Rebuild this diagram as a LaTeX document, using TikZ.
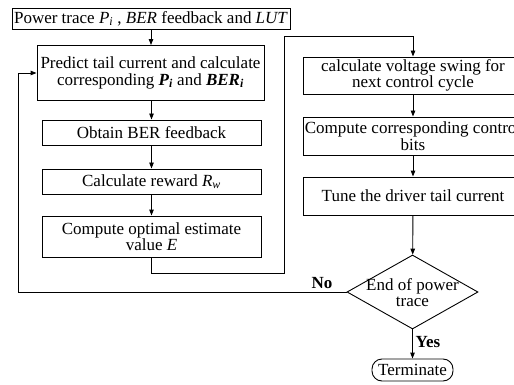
\documentclass[tikz,border=0pt]{standalone}
\usepackage{fontspec}
\setmainfont{Liberation Serif}
\usetikzlibrary{shapes.geometric,arrows.meta}
\newcommand\flowfont{\fontsize{17}{16.5}\selectfont}
\begin{document}
\begin{tikzpicture}[x=1pt,y=-1pt,
  box/.style={draw, line width=0.9pt, inner sep=0pt, align=center, font=\flowfont},
  arr/.style={line width=0.9pt, -{Triangle[length=6pt,width=4.5pt]}},
  lbl/.style={font=\flowfont\bfseries, inner sep=0pt}]
\useasboundingbox (0,0) rectangle (514,385);
\clip (0,0) rectangle (514,385);
% left column
\node[box, minimum width=278pt, minimum height=21pt] (src) at (151,18.5)
  {Power trace \textit{P}\textsubscript{\textit{i}} , \textit{BER} feedback and \textit{LUT}};
\node[box, minimum width=227pt, minimum height=55pt] (predict) at (150.5,73)
  {Predict tail current and calculate\\corresponding \textbf{\textit{P}\textsubscript{\textit{i}}} and \textbf{\textit{BER}\textsubscript{\textit{i}}}};
\node[box, minimum width=219pt, minimum height=25pt] (obtain) at (151.5,132.5)
  {Obtain BER feedback};
\node[box, minimum width=219pt, minimum height=25pt] (reward) at (151.5,181.5)
  {Calculate reward \textit{R}\textsubscript{\textit{w}}};
\node[box, minimum width=219pt, minimum height=41pt] (estim) at (151.5,236.5)
  {Compute optimal estimate\\value \textit{E}};
% right column
\node[box, minimum width=220pt, minimum height=37pt] (swing) at (413,75.5)
  {calculate voltage swing for\\next control cycle};
\node[box, minimum width=220pt, minimum height=38pt] (bits) at (413,136)
  {Compute corresponding control\\bits};
\node[box, minimum width=220pt, minimum height=38pt] (tune) at (413,196)
  {Tune the driver tail current};
% decision and end
\node[draw, diamond, line width=0.9pt, inner sep=0pt,
  minimum width=131pt, minimum height=74pt] (dec) at (412.5,292) {};
\node[font=\flowfont, align=center, inner sep=0pt] (dectext) at (412.5,292.5)
  {End of power\\trace};
\node[box, rounded corners=10pt, minimum width=81pt, minimum height=22pt] (term) at (412.5,370)
  {Terminate};
% connectors
\coordinate (up) at (284,36);
\coordinate (nl) at (18,292);
\draw[arr] (src.south -| 151,0) -- (predict.north -| 151,0);
\draw[arr] (predict.south -| 151.5,0) -- (obtain.north);
\draw[arr] (obtain) -- (reward);
\draw[arr] (reward) -- (estim);
\draw[arr] (estim.south) -- ++(0,15.5) -| (up) -| (swing.north);
\draw[arr] (swing) -- (bits);
\draw[arr] (bits) -- (tune);
\draw[arr] (tune) -- (dec);
\draw[arr] (dec) -- (term);
\draw[arr] (dec.west) -- (nl) |- (predict.west);
\node[lbl] (no) at (322,283) {No};
\node[lbl] (yes) at (428,342) {Yes};
\end{tikzpicture}
\end{document}
